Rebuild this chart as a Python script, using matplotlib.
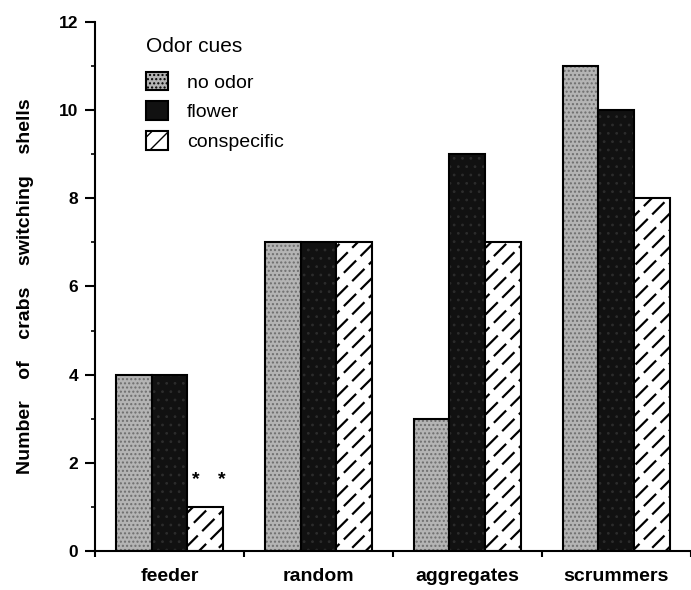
import numpy as np
import matplotlib
matplotlib.use("Agg")
import matplotlib.pyplot as plt
from matplotlib.patches import Patch

plt.rcParams['font.family'] = ['Liberation Sans', 'DejaVu Sans']

# data
groups = ["feeder", "random", "aggregates", "scrummers"]
cues = ["no odor", "flower", "conspecific"]
no_odor = [4, 7, 3, 11]
flower = [4, 7, 9, 10]
conspecific = [1, 7, 7, 8]

fig = plt.figure(figsize=(6.91, 5.90), dpi=100)
ax = fig.add_axes([0.1375, 0.066, 0.862, 0.897])

x = np.arange(len(groups))
w = 0.24


def hatched_bars(xpos, vals, face, hatch, hcolor, hlw, edge=True):
    with plt.rc_context({"hatch.linewidth": hlw}):
        bars = ax.bar(xpos, vals, w, facecolor=face, hatch=hatch,
                      edgecolor="black" if edge else "none",
                      linewidth=1.5 if edge else 0)
    for b in bars:
        b._hatch_color = matplotlib.colors.to_rgba(hcolor)
        if hasattr(b, "set_hatch_linewidth"):
            b.set_hatch_linewidth(hlw)
    return bars


# no odor: grey stipple
hatched_bars(x - w, no_odor, "#b4b4b4", "....", "#6e6e6e", 1.0)
# flower: near black with faint speckle
hatched_bars(x, flower, "#111111", "..", "#2c2c2c", 0.8)
# conspecific: white with short diagonal dashes
hatched_bars(x + w, conspecific, "white", "//", "black", 1.6, edge=False)
hatched_bars(x + w, conspecific, "none", "\\", "white", 4.5, edge=False)
ax.bar(x + w, conspecific, w, facecolor="none", edgecolor="black", linewidth=1.5)

# significance marks above feeder / conspecific
for dx in (-0.06, 0.11):
    ax.text(x[0] + w + dx, conspecific[0] + 0.62, "*", ha="center", va="center",
            fontsize=14, fontweight="bold")

ax.set_xlim(-0.5, 3.45)
ax.set_ylim(0, 12)
ax.set_yticks(np.arange(0, 13, 2))
ax.set_yticks(np.arange(1, 12, 2), minor=True)
ax.set_xticks(np.arange(-0.5, 4, 1))
ax.set_xticklabels([])
ax.set_xticks(x, minor=True)
ax.set_xticklabels(groups, minor=True, fontsize=14, fontweight="bold")
ax.tick_params(axis="x", which="minor", length=0, pad=12)
ax.tick_params(axis="x", which="major", length=4, width=1.5, direction="out")
ax.tick_params(axis="y", which="major", length=7, width=1.5, labelsize=12.5,
               direction="out", pad=5)
ax.tick_params(axis="y", which="minor", length=3, width=1.2, direction="out")
for t in ax.get_yticklabels():
    t.set_fontweight("bold")

for s in ["top", "right"]:
    ax.spines[s].set_visible(False)
ax.spines["left"].set_linewidth(1.5)
ax.spines["bottom"].set_linewidth(1.5)

ax.set_ylabel("Number    of    crabs    switching    shells", fontsize=14,
              fontweight="bold", labelpad=18)

# legend
handles = [
    Patch(facecolor="#b4b4b4", edgecolor="black", hatch="....", linewidth=1.5),
    Patch(facecolor="#111111", edgecolor="black", linewidth=1.5),
    Patch(facecolor="white", edgecolor="black", hatch="//", linewidth=1.5),
]
leg = ax.legend(handles, cues, title="Odor cues", loc="upper left",
                bbox_to_anchor=(0.06, 1.0),
                frameon=False, fontsize=14, title_fontsize=15,
                handlelength=1.1, handleheight=1.1, handletextpad=1.0,
                labelspacing=0.5, borderpad=0.3)
leg._legend_box.align = "left"
leg._legend_box.sep = 11

fig.savefig("out.png", dpi=100)
